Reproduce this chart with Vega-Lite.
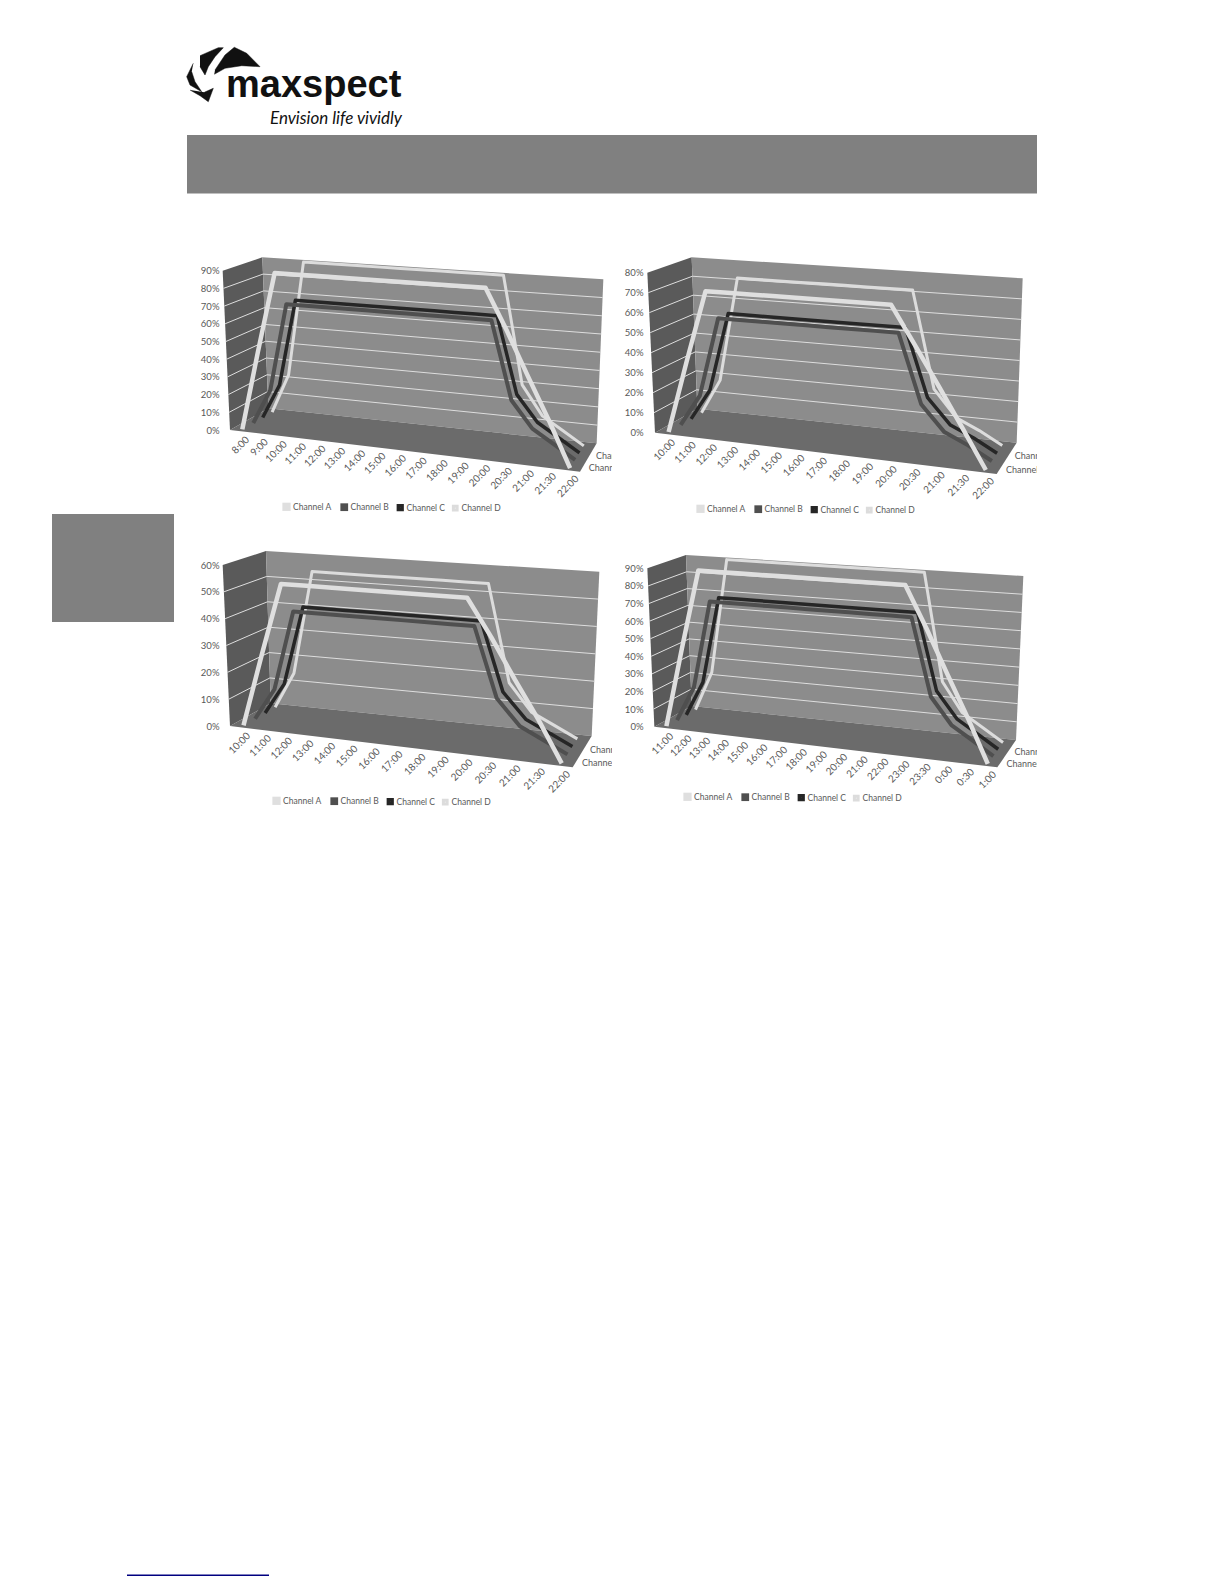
{"$schema":"https://vega.github.io/schema/vega-lite/v6.json","padding":{"left":52,"top":45,"right":0,"bottom":0},"background":"white","config":{"view":{"stroke":null}},
"datasets":{"logo":[
{"part":"b1","n":0,"x":215,"y":70},{"part":"b1","n":1,"x":225,"y":55},{"part":"b1","n":2,"x":234.3,"y":47.3},{"part":"b1","n":3,"x":246.7,"y":53.3},{"part":"b1","n":4,"x":260,"y":66.7},{"part":"b1","n":5,"x":241.7,"y":65.7},{"part":"b1","n":6,"x":225,"y":68.3},{"part":"b1","n":7,"x":214.3,"y":74.3},
{"part":"b2","n":0,"x":200,"y":55.7},{"part":"b2","n":1,"x":218.3,"y":47.7},{"part":"b2","n":2,"x":223.3,"y":47.7},{"part":"b2","n":3,"x":215,"y":56.7},{"part":"b2","n":4,"x":208.3,"y":66.7},{"part":"b2","n":5,"x":205,"y":75},{"part":"b2","n":6,"x":200,"y":66.7},
{"part":"b3","n":0,"x":193.3,"y":63.3},{"part":"b3","n":1,"x":186.7,"y":76.7},{"part":"b3","n":2,"x":190,"y":85},{"part":"b3","n":3,"x":201.7,"y":91.7},{"part":"b3","n":4,"x":195,"y":81.7},{"part":"b3","n":5,"x":191.7,"y":71.7},
{"part":"b4","n":0,"x":190,"y":90},{"part":"b4","n":1,"x":200,"y":95.7},{"part":"b4","n":2,"x":208.3,"y":101.7},{"part":"b4","n":3,"x":213.3,"y":88.3},{"part":"b4","n":4,"x":204.3,"y":92.3}],
"rows":[
{"panel":0,"part":"left","n":0,"s":0,"d":0,"f":0},{"panel":0,"part":"left","n":1,"s":0,"d":1,"f":0},{"panel":0,"part":"left","n":2,"s":0,"d":1,"f":1},{"panel":0,"part":"left","n":3,"s":0,"d":0,"f":1},
{"panel":0,"part":"back","n":0,"s":0,"d":1,"f":0},{"panel":0,"part":"back","n":1,"s":1,"d":1,"f":0},{"panel":0,"part":"back","n":2,"s":1,"d":1,"f":1},{"panel":0,"part":"back","n":3,"s":0,"d":1,"f":1},
{"panel":0,"part":"floor","n":0,"s":0,"d":0,"f":0},{"panel":0,"part":"floor","n":1,"s":1,"d":0,"f":0},{"panel":0,"part":"floor","n":2,"s":1,"d":1,"f":0},{"panel":0,"part":"floor","n":3,"s":0,"d":1,"f":0},
{"panel":0,"part":"depth","label":"Channel A","s":1,"d":0.17,"f":0},{"panel":0,"part":"depth","label":"Channel C","s":1,"d":0.6,"f":0},
{"panel":0,"part":"grid","value":10,"n":0,"s":0,"d":0},{"panel":0,"part":"grid","value":10,"n":1,"s":0,"d":1},{"panel":0,"part":"grid","value":10,"n":2,"s":1,"d":1},
{"panel":0,"part":"grid","value":20,"n":0,"s":0,"d":0},{"panel":0,"part":"grid","value":20,"n":1,"s":0,"d":1},{"panel":0,"part":"grid","value":20,"n":2,"s":1,"d":1},
{"panel":0,"part":"grid","value":30,"n":0,"s":0,"d":0},{"panel":0,"part":"grid","value":30,"n":1,"s":0,"d":1},{"panel":0,"part":"grid","value":30,"n":2,"s":1,"d":1},
{"panel":0,"part":"grid","value":40,"n":0,"s":0,"d":0},{"panel":0,"part":"grid","value":40,"n":1,"s":0,"d":1},{"panel":0,"part":"grid","value":40,"n":2,"s":1,"d":1},
{"panel":0,"part":"grid","value":50,"n":0,"s":0,"d":0},{"panel":0,"part":"grid","value":50,"n":1,"s":0,"d":1},{"panel":0,"part":"grid","value":50,"n":2,"s":1,"d":1},
{"panel":0,"part":"grid","value":60,"n":0,"s":0,"d":0},{"panel":0,"part":"grid","value":60,"n":1,"s":0,"d":1},{"panel":0,"part":"grid","value":60,"n":2,"s":1,"d":1},
{"panel":0,"part":"grid","value":70,"n":0,"s":0,"d":0},{"panel":0,"part":"grid","value":70,"n":1,"s":0,"d":1},{"panel":0,"part":"grid","value":70,"n":2,"s":1,"d":1},
{"panel":0,"part":"grid","value":80,"n":0,"s":0,"d":0},{"panel":0,"part":"grid","value":80,"n":1,"s":0,"d":1},{"panel":0,"part":"grid","value":80,"n":2,"s":1,"d":1},
{"panel":1,"channel":"Channel D","time":"8:00","slot":0,"value":0},{"panel":1,"channel":"Channel D","time":"9:00","slot":1,"value":23},{"panel":1,"channel":"Channel D","time":"10:00","slot":2,"value":90},{"panel":1,"channel":"Channel D","time":"11:00","slot":3,"value":90},{"panel":1,"channel":"Channel D","time":"12:00","slot":4,"value":90},{"panel":1,"channel":"Channel D","time":"13:00","slot":5,"value":90},{"panel":1,"channel":"Channel D","time":"14:00","slot":6,"value":90},{"panel":1,"channel":"Channel D","time":"15:00","slot":7,"value":90},{"panel":1,"channel":"Channel D","time":"16:00","slot":8,"value":90},{"panel":1,"channel":"Channel D","time":"17:00","slot":9,"value":90},{"panel":1,"channel":"Channel D","time":"18:00","slot":10,"value":90},{"panel":1,"channel":"Channel D","time":"19:00","slot":11,"value":90},{"panel":1,"channel":"Channel D","time":"20:00","slot":12,"value":90},{"panel":1,"channel":"Channel D","time":"20:30","slot":13,"value":30},{"panel":1,"channel":"Channel D","time":"21:00","slot":14,"value":14},{"panel":1,"channel":"Channel D","time":"21:30","slot":15,"value":7},{"panel":1,"channel":"Channel D","time":"22:00","slot":16,"value":0},
{"panel":1,"channel":"Channel C","time":"8:00","slot":0,"value":0},{"panel":1,"channel":"Channel C","time":"9:00","slot":1,"value":20},{"panel":1,"channel":"Channel C","time":"10:00","slot":2,"value":70},{"panel":1,"channel":"Channel C","time":"11:00","slot":3,"value":70},{"panel":1,"channel":"Channel C","time":"12:00","slot":4,"value":70},{"panel":1,"channel":"Channel C","time":"13:00","slot":5,"value":70},{"panel":1,"channel":"Channel C","time":"14:00","slot":6,"value":70},{"panel":1,"channel":"Channel C","time":"15:00","slot":7,"value":70},{"panel":1,"channel":"Channel C","time":"16:00","slot":8,"value":70},{"panel":1,"channel":"Channel C","time":"17:00","slot":9,"value":70},{"panel":1,"channel":"Channel C","time":"18:00","slot":10,"value":70},{"panel":1,"channel":"Channel C","time":"19:00","slot":11,"value":70},{"panel":1,"channel":"Channel C","time":"20:00","slot":12,"value":70},{"panel":1,"channel":"Channel C","time":"20:30","slot":13,"value":28},{"panel":1,"channel":"Channel C","time":"21:00","slot":14,"value":14},{"panel":1,"channel":"Channel C","time":"21:30","slot":15,"value":7},{"panel":1,"channel":"Channel C","time":"22:00","slot":16,"value":0},
{"panel":1,"channel":"Channel B","time":"8:00","slot":0,"value":0},{"panel":1,"channel":"Channel B","time":"9:00","slot":1,"value":20},{"panel":1,"channel":"Channel B","time":"10:00","slot":2,"value":70},{"panel":1,"channel":"Channel B","time":"11:00","slot":3,"value":70},{"panel":1,"channel":"Channel B","time":"12:00","slot":4,"value":70},{"panel":1,"channel":"Channel B","time":"13:00","slot":5,"value":70},{"panel":1,"channel":"Channel B","time":"14:00","slot":6,"value":70},{"panel":1,"channel":"Channel B","time":"15:00","slot":7,"value":70},{"panel":1,"channel":"Channel B","time":"16:00","slot":8,"value":70},{"panel":1,"channel":"Channel B","time":"17:00","slot":9,"value":70},{"panel":1,"channel":"Channel B","time":"18:00","slot":10,"value":70},{"panel":1,"channel":"Channel B","time":"19:00","slot":11,"value":70},{"panel":1,"channel":"Channel B","time":"20:00","slot":12,"value":70},{"panel":1,"channel":"Channel B","time":"20:30","slot":13,"value":28},{"panel":1,"channel":"Channel B","time":"21:00","slot":14,"value":14},{"panel":1,"channel":"Channel B","time":"21:30","slot":15,"value":7},{"panel":1,"channel":"Channel B","time":"22:00","slot":16,"value":0},
{"panel":1,"channel":"Channel A","time":"8:00","slot":0,"value":0},{"panel":1,"channel":"Channel A","time":"9:00","slot":1,"value":45},{"panel":1,"channel":"Channel A","time":"10:00","slot":2,"value":90},{"panel":1,"channel":"Channel A","time":"11:00","slot":3,"value":90},{"panel":1,"channel":"Channel A","time":"12:00","slot":4,"value":90},{"panel":1,"channel":"Channel A","time":"13:00","slot":5,"value":90},{"panel":1,"channel":"Channel A","time":"14:00","slot":6,"value":90},{"panel":1,"channel":"Channel A","time":"15:00","slot":7,"value":90},{"panel":1,"channel":"Channel A","time":"16:00","slot":8,"value":90},{"panel":1,"channel":"Channel A","time":"17:00","slot":9,"value":90},{"panel":1,"channel":"Channel A","time":"18:00","slot":10,"value":90},{"panel":1,"channel":"Channel A","time":"19:00","slot":11,"value":90},{"panel":1,"channel":"Channel A","time":"20:00","slot":12,"value":90},{"panel":1,"channel":"Channel A","time":"20:30","slot":13,"value":68},{"panel":1,"channel":"Channel A","time":"21:00","slot":14,"value":45},{"panel":1,"channel":"Channel A","time":"21:30","slot":15,"value":23},{"panel":1,"channel":"Channel A","time":"22:00","slot":16,"value":0},
{"panel":2,"channel":"Channel D","time":"10:00","slot":0,"value":0},{"panel":2,"channel":"Channel D","time":"11:00","slot":1,"value":18},{"panel":2,"channel":"Channel D","time":"12:00","slot":2,"value":72},{"panel":2,"channel":"Channel D","time":"13:00","slot":3,"value":72},{"panel":2,"channel":"Channel D","time":"14:00","slot":4,"value":72},{"panel":2,"channel":"Channel D","time":"15:00","slot":5,"value":72},{"panel":2,"channel":"Channel D","time":"16:00","slot":6,"value":72},{"panel":2,"channel":"Channel D","time":"17:00","slot":7,"value":72},{"panel":2,"channel":"Channel D","time":"18:00","slot":8,"value":72},{"panel":2,"channel":"Channel D","time":"19:00","slot":9,"value":72},{"panel":2,"channel":"Channel D","time":"20:00","slot":10,"value":72},{"panel":2,"channel":"Channel D","time":"20:30","slot":11,"value":24},{"panel":2,"channel":"Channel D","time":"21:00","slot":12,"value":11},{"panel":2,"channel":"Channel D","time":"21:30","slot":13,"value":6},{"panel":2,"channel":"Channel D","time":"22:00","slot":14,"value":0},
{"panel":2,"channel":"Channel C","time":"10:00","slot":0,"value":0},{"panel":2,"channel":"Channel C","time":"11:00","slot":1,"value":16},{"panel":2,"channel":"Channel C","time":"12:00","slot":2,"value":56},{"panel":2,"channel":"Channel C","time":"13:00","slot":3,"value":56},{"panel":2,"channel":"Channel C","time":"14:00","slot":4,"value":56},{"panel":2,"channel":"Channel C","time":"15:00","slot":5,"value":56},{"panel":2,"channel":"Channel C","time":"16:00","slot":6,"value":56},{"panel":2,"channel":"Channel C","time":"17:00","slot":7,"value":56},{"panel":2,"channel":"Channel C","time":"18:00","slot":8,"value":56},{"panel":2,"channel":"Channel C","time":"19:00","slot":9,"value":56},{"panel":2,"channel":"Channel C","time":"20:00","slot":10,"value":56},{"panel":2,"channel":"Channel C","time":"20:30","slot":11,"value":23},{"panel":2,"channel":"Channel C","time":"21:00","slot":12,"value":11},{"panel":2,"channel":"Channel C","time":"21:30","slot":13,"value":6},{"panel":2,"channel":"Channel C","time":"22:00","slot":14,"value":0},
{"panel":2,"channel":"Channel B","time":"10:00","slot":0,"value":0},{"panel":2,"channel":"Channel B","time":"11:00","slot":1,"value":16},{"panel":2,"channel":"Channel B","time":"12:00","slot":2,"value":56},{"panel":2,"channel":"Channel B","time":"13:00","slot":3,"value":56},{"panel":2,"channel":"Channel B","time":"14:00","slot":4,"value":56},{"panel":2,"channel":"Channel B","time":"15:00","slot":5,"value":56},{"panel":2,"channel":"Channel B","time":"16:00","slot":6,"value":56},{"panel":2,"channel":"Channel B","time":"17:00","slot":7,"value":56},{"panel":2,"channel":"Channel B","time":"18:00","slot":8,"value":56},{"panel":2,"channel":"Channel B","time":"19:00","slot":9,"value":56},{"panel":2,"channel":"Channel B","time":"20:00","slot":10,"value":56},{"panel":2,"channel":"Channel B","time":"20:30","slot":11,"value":23},{"panel":2,"channel":"Channel B","time":"21:00","slot":12,"value":11},{"panel":2,"channel":"Channel B","time":"21:30","slot":13,"value":6},{"panel":2,"channel":"Channel B","time":"22:00","slot":14,"value":0},
{"panel":2,"channel":"Channel A","time":"10:00","slot":0,"value":0},{"panel":2,"channel":"Channel A","time":"11:00","slot":1,"value":36},{"panel":2,"channel":"Channel A","time":"12:00","slot":2,"value":72},{"panel":2,"channel":"Channel A","time":"13:00","slot":3,"value":72},{"panel":2,"channel":"Channel A","time":"14:00","slot":4,"value":72},{"panel":2,"channel":"Channel A","time":"15:00","slot":5,"value":72},{"panel":2,"channel":"Channel A","time":"16:00","slot":6,"value":72},{"panel":2,"channel":"Channel A","time":"17:00","slot":7,"value":72},{"panel":2,"channel":"Channel A","time":"18:00","slot":8,"value":72},{"panel":2,"channel":"Channel A","time":"19:00","slot":9,"value":72},{"panel":2,"channel":"Channel A","time":"20:00","slot":10,"value":72},{"panel":2,"channel":"Channel A","time":"20:30","slot":11,"value":54},{"panel":2,"channel":"Channel A","time":"21:00","slot":12,"value":36},{"panel":2,"channel":"Channel A","time":"21:30","slot":13,"value":18},{"panel":2,"channel":"Channel A","time":"22:00","slot":14,"value":0},
{"panel":3,"channel":"Channel D","time":"10:00","slot":0,"value":0},{"panel":3,"channel":"Channel D","time":"11:00","slot":1,"value":14},{"panel":3,"channel":"Channel D","time":"12:00","slot":2,"value":54},{"panel":3,"channel":"Channel D","time":"13:00","slot":3,"value":54},{"panel":3,"channel":"Channel D","time":"14:00","slot":4,"value":54},{"panel":3,"channel":"Channel D","time":"15:00","slot":5,"value":54},{"panel":3,"channel":"Channel D","time":"16:00","slot":6,"value":54},{"panel":3,"channel":"Channel D","time":"17:00","slot":7,"value":54},{"panel":3,"channel":"Channel D","time":"18:00","slot":8,"value":54},{"panel":3,"channel":"Channel D","time":"19:00","slot":9,"value":54},{"panel":3,"channel":"Channel D","time":"20:00","slot":10,"value":54},{"panel":3,"channel":"Channel D","time":"20:30","slot":11,"value":18},{"panel":3,"channel":"Channel D","time":"21:00","slot":12,"value":8},{"panel":3,"channel":"Channel D","time":"21:30","slot":13,"value":4},{"panel":3,"channel":"Channel D","time":"22:00","slot":14,"value":0},
{"panel":3,"channel":"Channel C","time":"10:00","slot":0,"value":0},{"panel":3,"channel":"Channel C","time":"11:00","slot":1,"value":12},{"panel":3,"channel":"Channel C","time":"12:00","slot":2,"value":42},{"panel":3,"channel":"Channel C","time":"13:00","slot":3,"value":42},{"panel":3,"channel":"Channel C","time":"14:00","slot":4,"value":42},{"panel":3,"channel":"Channel C","time":"15:00","slot":5,"value":42},{"panel":3,"channel":"Channel C","time":"16:00","slot":6,"value":42},{"panel":3,"channel":"Channel C","time":"17:00","slot":7,"value":42},{"panel":3,"channel":"Channel C","time":"18:00","slot":8,"value":42},{"panel":3,"channel":"Channel C","time":"19:00","slot":9,"value":42},{"panel":3,"channel":"Channel C","time":"20:00","slot":10,"value":42},{"panel":3,"channel":"Channel C","time":"20:30","slot":11,"value":17},{"panel":3,"channel":"Channel C","time":"21:00","slot":12,"value":8},{"panel":3,"channel":"Channel C","time":"21:30","slot":13,"value":4},{"panel":3,"channel":"Channel C","time":"22:00","slot":14,"value":0},
{"panel":3,"channel":"Channel B","time":"10:00","slot":0,"value":0},{"panel":3,"channel":"Channel B","time":"11:00","slot":1,"value":12},{"panel":3,"channel":"Channel B","time":"12:00","slot":2,"value":42},{"panel":3,"channel":"Channel B","time":"13:00","slot":3,"value":42},{"panel":3,"channel":"Channel B","time":"14:00","slot":4,"value":42},{"panel":3,"channel":"Channel B","time":"15:00","slot":5,"value":42},{"panel":3,"channel":"Channel B","time":"16:00","slot":6,"value":42},{"panel":3,"channel":"Channel B","time":"17:00","slot":7,"value":42},{"panel":3,"channel":"Channel B","time":"18:00","slot":8,"value":42},{"panel":3,"channel":"Channel B","time":"19:00","slot":9,"value":42},{"panel":3,"channel":"Channel B","time":"20:00","slot":10,"value":42},{"panel":3,"channel":"Channel B","time":"20:30","slot":11,"value":17},{"panel":3,"channel":"Channel B","time":"21:00","slot":12,"value":8},{"panel":3,"channel":"Channel B","time":"21:30","slot":13,"value":4},{"panel":3,"channel":"Channel B","time":"22:00","slot":14,"value":0},
{"panel":3,"channel":"Channel A","time":"10:00","slot":0,"value":0},{"panel":3,"channel":"Channel A","time":"11:00","slot":1,"value":27},{"panel":3,"channel":"Channel A","time":"12:00","slot":2,"value":54},{"panel":3,"channel":"Channel A","time":"13:00","slot":3,"value":54},{"panel":3,"channel":"Channel A","time":"14:00","slot":4,"value":54},{"panel":3,"channel":"Channel A","time":"15:00","slot":5,"value":54},{"panel":3,"channel":"Channel A","time":"16:00","slot":6,"value":54},{"panel":3,"channel":"Channel A","time":"17:00","slot":7,"value":54},{"panel":3,"channel":"Channel A","time":"18:00","slot":8,"value":54},{"panel":3,"channel":"Channel A","time":"19:00","slot":9,"value":54},{"panel":3,"channel":"Channel A","time":"20:00","slot":10,"value":54},{"panel":3,"channel":"Channel A","time":"20:30","slot":11,"value":41},{"panel":3,"channel":"Channel A","time":"21:00","slot":12,"value":27},{"panel":3,"channel":"Channel A","time":"21:30","slot":13,"value":14},{"panel":3,"channel":"Channel A","time":"22:00","slot":14,"value":0},
{"panel":4,"channel":"Channel D","time":"11:00","slot":0,"value":0},{"panel":4,"channel":"Channel D","time":"12:00","slot":1,"value":23},{"panel":4,"channel":"Channel D","time":"13:00","slot":2,"value":90},{"panel":4,"channel":"Channel D","time":"14:00","slot":3,"value":90},{"panel":4,"channel":"Channel D","time":"15:00","slot":4,"value":90},{"panel":4,"channel":"Channel D","time":"16:00","slot":5,"value":90},{"panel":4,"channel":"Channel D","time":"17:00","slot":6,"value":90},{"panel":4,"channel":"Channel D","time":"18:00","slot":7,"value":90},{"panel":4,"channel":"Channel D","time":"19:00","slot":8,"value":90},{"panel":4,"channel":"Channel D","time":"20:00","slot":9,"value":90},{"panel":4,"channel":"Channel D","time":"21:00","slot":10,"value":90},{"panel":4,"channel":"Channel D","time":"22:00","slot":11,"value":90},{"panel":4,"channel":"Channel D","time":"23:00","slot":12,"value":90},{"panel":4,"channel":"Channel D","time":"23:30","slot":13,"value":30},{"panel":4,"channel":"Channel D","time":"0:00","slot":14,"value":14},{"panel":4,"channel":"Channel D","time":"0:30","slot":15,"value":7},{"panel":4,"channel":"Channel D","time":"1:00","slot":16,"value":0},
{"panel":4,"channel":"Channel C","time":"11:00","slot":0,"value":0},{"panel":4,"channel":"Channel C","time":"12:00","slot":1,"value":20},{"panel":4,"channel":"Channel C","time":"13:00","slot":2,"value":70},{"panel":4,"channel":"Channel C","time":"14:00","slot":3,"value":70},{"panel":4,"channel":"Channel C","time":"15:00","slot":4,"value":70},{"panel":4,"channel":"Channel C","time":"16:00","slot":5,"value":70},{"panel":4,"channel":"Channel C","time":"17:00","slot":6,"value":70},{"panel":4,"channel":"Channel C","time":"18:00","slot":7,"value":70},{"panel":4,"channel":"Channel C","time":"19:00","slot":8,"value":70},{"panel":4,"channel":"Channel C","time":"20:00","slot":9,"value":70},{"panel":4,"channel":"Channel C","time":"21:00","slot":10,"value":70},{"panel":4,"channel":"Channel C","time":"22:00","slot":11,"value":70},{"panel":4,"channel":"Channel C","time":"23:00","slot":12,"value":70},{"panel":4,"channel":"Channel C","time":"23:30","slot":13,"value":28},{"panel":4,"channel":"Channel C","time":"0:00","slot":14,"value":14},{"panel":4,"channel":"Channel C","time":"0:30","slot":15,"value":7},{"panel":4,"channel":"Channel C","time":"1:00","slot":16,"value":0},
{"panel":4,"channel":"Channel B","time":"11:00","slot":0,"value":0},{"panel":4,"channel":"Channel B","time":"12:00","slot":1,"value":20},{"panel":4,"channel":"Channel B","time":"13:00","slot":2,"value":70},{"panel":4,"channel":"Channel B","time":"14:00","slot":3,"value":70},{"panel":4,"channel":"Channel B","time":"15:00","slot":4,"value":70},{"panel":4,"channel":"Channel B","time":"16:00","slot":5,"value":70},{"panel":4,"channel":"Channel B","time":"17:00","slot":6,"value":70},{"panel":4,"channel":"Channel B","time":"18:00","slot":7,"value":70},{"panel":4,"channel":"Channel B","time":"19:00","slot":8,"value":70},{"panel":4,"channel":"Channel B","time":"20:00","slot":9,"value":70},{"panel":4,"channel":"Channel B","time":"21:00","slot":10,"value":70},{"panel":4,"channel":"Channel B","time":"22:00","slot":11,"value":70},{"panel":4,"channel":"Channel B","time":"23:00","slot":12,"value":70},{"panel":4,"channel":"Channel B","time":"23:30","slot":13,"value":28},{"panel":4,"channel":"Channel B","time":"0:00","slot":14,"value":14},{"panel":4,"channel":"Channel B","time":"0:30","slot":15,"value":7},{"panel":4,"channel":"Channel B","time":"1:00","slot":16,"value":0},
{"panel":4,"channel":"Channel A","time":"11:00","slot":0,"value":0},{"panel":4,"channel":"Channel A","time":"12:00","slot":1,"value":45},{"panel":4,"channel":"Channel A","time":"13:00","slot":2,"value":90},{"panel":4,"channel":"Channel A","time":"14:00","slot":3,"value":90},{"panel":4,"channel":"Channel A","time":"15:00","slot":4,"value":90},{"panel":4,"channel":"Channel A","time":"16:00","slot":5,"value":90},{"panel":4,"channel":"Channel A","time":"17:00","slot":6,"value":90},{"panel":4,"channel":"Channel A","time":"18:00","slot":7,"value":90},{"panel":4,"channel":"Channel A","time":"19:00","slot":8,"value":90},{"panel":4,"channel":"Channel A","time":"20:00","slot":9,"value":90},{"panel":4,"channel":"Channel A","time":"21:00","slot":10,"value":90},{"panel":4,"channel":"Channel A","time":"22:00","slot":11,"value":90},{"panel":4,"channel":"Channel A","time":"23:00","slot":12,"value":90},{"panel":4,"channel":"Channel A","time":"23:30","slot":13,"value":68},{"panel":4,"channel":"Channel A","time":"0:00","slot":14,"value":45},{"panel":4,"channel":"Channel A","time":"0:30","slot":15,"value":23},{"panel":4,"channel":"Channel A","time":"1:00","slot":16,"value":0}
]},
"resolve":{"scale":{"color":"independent","strokeWidth":"independent"},"legend":{"color":"independent"}},
"bounds":"flush","spacing":0,"align":"each","columns":3,
"concat":[
{"width":170,"height":205,"encoding":{"x":{"field":"x","type":"quantitative","axis":null,"scale":{"domain":[52,222],"nice":false,"zero":false}},"y":{"field":"y","type":"quantitative","axis":null,"scale":{"domain":[250,45],"nice":false,"zero":false}}},
 "layer":[
  {"data":{"values":[{"part":"banner","x":187,"x2":1037,"y":135,"y2":193.5},{"part":"side","x":52,"x2":174,"y":514,"y2":622}]},"mark":{"type":"rect","color":"#808080"},"encoding":{"x2":{"field":"x2"},"y2":{"field":"y2"}}},
  {"data":{"values":[{"part":"link","x":127,"x2":269,"y":1574.5,"y2":1576}]},"mark":{"type":"rect","color":"#000080"},"encoding":{"x2":{"field":"x2"},"y2":{"field":"y2"}}},
  {"data":{"name":"logo"},"mark":{"type":"line","fill":"#111111","stroke":"#111111","strokeWidth":0.5},"encoding":{"detail":{"field":"part"},"order":{"field":"n"}}},
  {"data":{"values":[{"label":"maxspect","x":226,"y":96.7}]},"mark":{"type":"text","font":"Liberation Sans","fontWeight":"bold","fontSize":38,"align":"left","baseline":"alphabetic","color":"#111111"},"encoding":{"text":{"field":"label"}}},
  {"data":{"values":[{"label":"Envision life vividly","x":270,"y":124}]},"mark":{"type":"text","font":"Lato","fontStyle":"italic","fontSize":17,"align":"left","baseline":"alphabetic","color":"#111111"},"encoding":{"text":{"field":"label"}}}
 ]},
{"width":424,"height":1,"data":{"values":[{}]},"mark":{"type":"rect","opacity":0},"encoding":{}},
{"width":391,"height":1,"data":{"values":[{}]},"mark":{"type":"rect","opacity":0},"encoding":{}},
{"width":1,"height":290,"data":{"values":[{}]},"mark":{"type":"rect","opacity":0},"encoding":{}},
   {"width":390,"height":265,"data":{"name":"rows"},
    "transform":[{"filter":"datum.panel==0||datum.panel==1"},{"calculate":"isValid(datum.slot)?(datum.slot+0.5)/17:datum.s","as":"u"},{"calculate":"datum.u-0.1*datum.u*(1-datum.u)","as":"s2"},{"calculate":"isValid(datum.channel)?[0.08,0.37,0.62,0.87][indexof(['Channel A','Channel B','Channel C','Channel D'],datum.channel)]:datum.d","as":"dep"},{"calculate":"isValid(datum.f)?datum.f:datum.value/90","as":"fr"},
     {"calculate":"lerp([lerp([lerp([150,1200],datum.s2),lerp([265,1250],datum.s2)],datum.dep),lerp([lerp([128,1222],datum.s2),lerp([247,1270],datum.s2)],datum.dep)],datum.fr)","as":"zx"},
     {"calculate":"lerp([lerp([lerp([540,665],datum.s2),lerp([475,580],datum.s2)],datum.dep),lerp([lerp([62,139],datum.s2),lerp([22,88],datum.s2)],datum.dep)],datum.fr)","as":"zy"},
     {"calculate":"(540-datum.zy)*90/478","as":"level"}],
    "encoding":{"x":{"field":"zx","type":"quantitative","axis":null,"scale":{"domain":[126,1296],"nice":false,"zero":false}},"y":{"field":"level","type":"quantitative","scale":{"domain":[-48.01,101.67],"nice":false,"zero":false},"axis":{"title":null,"values":[0,10,20,30,40,50,60,70,80,90],"labelExpr":"datum.value+'%'","domain":false,"ticks":false,"grid":false,"labelPadding":3,"labelFont":"Lato","labelFontSize":9.5,"labelColor":"#595959"}}},
    "layer":[
     {"transform":[{"filter":"datum.part=='left'"}],"mark":{"type":"line","fill":"#5a5a5a","strokeWidth":0},"encoding":{"order":{"field":"n"}}},
     {"transform":[{"filter":"datum.part=='back'"}],"mark":{"type":"line","fill":"#8c8c8c","strokeWidth":0},"encoding":{"order":{"field":"n"}}},
     {"transform":[{"filter":"datum.part=='floor'"}],"mark":{"type":"line","fill":"#6b6b6b","strokeWidth":0},"encoding":{"order":{"field":"n"}}},
     {"transform":[{"filter":"datum.part=='grid'&&datum.value<90"}],"mark":{"type":"line","color":"#dedede","strokeWidth":1},"encoding":{"detail":{"field":"value"},"order":{"field":"n"}}},
     {"transform":[{"filter":"isValid(datum.channel)"}],"mark":{"type":"line","strokeJoin":"round"},"encoding":{"order":{"field":"slot"},"color":{"field":"channel","type":"nominal","scale":{"domain":["Channel A","Channel B","Channel C","Channel D"],"range":["#dfdfdf","#4f4f4f","#262626","#dcdcdc"]},"legend":{"title":null,"orient":"none","legendX":60,"legendY":252,"direction":"horizontal","symbolType":"square","symbolSize":14,"symbolStrokeWidth":3,"labelFont":"Lato","labelFontSize":8.5,"labelColor":"#595959","labelOffset":2,"columnPadding":2}},"strokeWidth":{"field":"channel","type":"nominal","scale":{"domain":["Channel A","Channel B","Channel C","Channel D"],"range":[4.5,3,3,2]},"legend":null}}},
     {"transform":[{"filter":"datum.channel=='Channel A'"},{"calculate":"lerp([150,1200],datum.s2)","as":"lx"},{"calculate":"(540-lerp([540,665],datum.s2))*90/478","as":"ly"}],"mark":{"type":"text","angle":315,"align":"right","baseline":"middle","dx":1,"dy":11,"font":"Lato","fontSize":10,"color":"#595959"},"encoding":{"x":{"field":"lx","type":"quantitative"},"y":{"field":"ly","type":"quantitative"},"text":{"field":"time"}}},
     {"transform":[{"filter":"datum.part=='depth'"}],"mark":{"type":"text","align":"left","baseline":"middle","dx":6,"dy":1,"clip":true,"font":"Lato","fontSize":9,"color":"#595959"},"encoding":{"text":{"field":"label"}}}
    ]},
   {"width":391,"height":265,"data":{"name":"rows"},
    "transform":[{"filter":"datum.panel==0||datum.panel==2"},{"calculate":"isValid(datum.slot)?(datum.slot+0.5)/15:datum.s","as":"u"},{"calculate":"datum.u-0.1*datum.u*(1-datum.u)","as":"s2"},{"calculate":"isValid(datum.channel)?[0.08,0.37,0.62,0.87][indexof(['Channel A','Channel B','Channel C','Channel D'],datum.channel)]:datum.d","as":"dep"},{"calculate":"isValid(datum.f)?datum.f:datum.value/80","as":"fr"},
     {"calculate":"lerp([lerp([lerp([135,1160],datum.s2),lerp([262,1220],datum.s2)],datum.dep),lerp([lerp([112,1180],datum.s2),lerp([245,1238],datum.s2)],datum.dep)],datum.fr)","as":"zx"},
     {"calculate":"lerp([lerp([lerp([548,672],datum.s2),lerp([476,578],datum.s2)],datum.dep),lerp([lerp([68,140],datum.s2),lerp([22,85],datum.s2)],datum.dep)],datum.fr)","as":"zy"},
     {"calculate":"(548-datum.zy)*80/480","as":"level"}],
    "encoding":{"x":{"field":"zx","type":"quantitative","axis":null,"scale":{"domain":[108,1281],"nice":false,"zero":false}},"y":{"field":"level","type":"quantitative","scale":{"domain":[-41.17,91.33],"nice":false,"zero":false},"axis":{"title":null,"values":[0,10,20,30,40,50,60,70,80],"labelExpr":"datum.value+'%'","domain":false,"ticks":false,"grid":false,"labelPadding":3,"labelFont":"Lato","labelFontSize":9.5,"labelColor":"#595959"}}},
    "layer":[
     {"transform":[{"filter":"datum.part=='left'"}],"mark":{"type":"line","fill":"#5a5a5a","strokeWidth":0},"encoding":{"order":{"field":"n"}}},
     {"transform":[{"filter":"datum.part=='back'"}],"mark":{"type":"line","fill":"#8c8c8c","strokeWidth":0},"encoding":{"order":{"field":"n"}}},
     {"transform":[{"filter":"datum.part=='floor'"}],"mark":{"type":"line","fill":"#6b6b6b","strokeWidth":0},"encoding":{"order":{"field":"n"}}},
     {"transform":[{"filter":"datum.part=='grid'&&datum.value<80"}],"mark":{"type":"line","color":"#dedede","strokeWidth":1},"encoding":{"detail":{"field":"value"},"order":{"field":"n"}}},
     {"transform":[{"filter":"isValid(datum.channel)"}],"mark":{"type":"line","strokeJoin":"round"},"encoding":{"order":{"field":"slot"},"color":{"field":"channel","type":"nominal","scale":{"domain":["Channel A","Channel B","Channel C","Channel D"],"range":["#dfdfdf","#4f4f4f","#262626","#dcdcdc"]},"legend":{"title":null,"orient":"none","legendX":50,"legendY":254,"direction":"horizontal","symbolType":"square","symbolSize":14,"symbolStrokeWidth":3,"labelFont":"Lato","labelFontSize":8.5,"labelColor":"#595959","labelOffset":2,"columnPadding":2}},"strokeWidth":{"field":"channel","type":"nominal","scale":{"domain":["Channel A","Channel B","Channel C","Channel D"],"range":[4.5,3,3,2]},"legend":null}}},
     {"transform":[{"filter":"datum.channel=='Channel A'"},{"calculate":"lerp([135,1160],datum.s2)","as":"lx"},{"calculate":"(548-lerp([548,672],datum.s2))*80/480","as":"ly"}],"mark":{"type":"text","angle":315,"align":"right","baseline":"middle","dx":1,"dy":11,"font":"Lato","fontSize":10,"color":"#595959"},"encoding":{"x":{"field":"lx","type":"quantitative"},"y":{"field":"ly","type":"quantitative"},"text":{"field":"time"}}},
     {"transform":[{"filter":"datum.part=='depth'"}],"mark":{"type":"text","align":"left","baseline":"middle","dx":6,"dy":1,"clip":true,"font":"Lato","fontSize":9,"color":"#595959"},"encoding":{"text":{"field":"label"}}}
    ]},
{"width":1,"height":1,"data":{"values":[{}]},"mark":{"type":"rect","opacity":0},"encoding":{}},
   {"width":390,"height":265,"data":{"name":"rows"},
    "transform":[{"filter":"datum.panel==0||datum.panel==3"},{"calculate":"isValid(datum.slot)?(datum.slot+0.5)/15:datum.s","as":"u"},{"calculate":"datum.u-0.1*datum.u*(1-datum.u)","as":"s2"},{"calculate":"isValid(datum.channel)?[0.08,0.37,0.62,0.87][indexof(['Channel A','Channel B','Channel C','Channel D'],datum.channel)]:datum.d","as":"dep"},{"calculate":"isValid(datum.f)?datum.f:datum.value/60","as":"fr"},
     {"calculate":"lerp([lerp([lerp([150,1178],datum.s2),lerp([272,1235],datum.s2)],datum.dep),lerp([lerp([128,1200],datum.s2),lerp([258,1258],datum.s2)],datum.dep)],datum.fr)","as":"zx"},
     {"calculate":"lerp([lerp([lerp([558,682],datum.s2),lerp([490,588],datum.s2)],datum.dep),lerp([lerp([75,150],datum.s2),lerp([33,95],datum.s2)],datum.dep)],datum.fr)","as":"zy"},
     {"calculate":"(558-datum.zy)*60/483","as":"level"}],
    "encoding":{"x":{"field":"zx","type":"quantitative","axis":null,"scale":{"domain":[126,1296],"nice":false,"zero":false}},"y":{"field":"level","type":"quantitative","scale":{"domain":[-29.44,69.32],"nice":false,"zero":false},"axis":{"title":null,"values":[0,10,20,30,40,50,60],"labelExpr":"datum.value+'%'","domain":false,"ticks":false,"grid":false,"labelPadding":3,"labelFont":"Lato","labelFontSize":9.5,"labelColor":"#595959"}}},
    "layer":[
     {"transform":[{"filter":"datum.part=='left'"}],"mark":{"type":"line","fill":"#5a5a5a","strokeWidth":0},"encoding":{"order":{"field":"n"}}},
     {"transform":[{"filter":"datum.part=='back'"}],"mark":{"type":"line","fill":"#8c8c8c","strokeWidth":0},"encoding":{"order":{"field":"n"}}},
     {"transform":[{"filter":"datum.part=='floor'"}],"mark":{"type":"line","fill":"#6b6b6b","strokeWidth":0},"encoding":{"order":{"field":"n"}}},
     {"transform":[{"filter":"datum.part=='grid'&&datum.value<60"}],"mark":{"type":"line","color":"#dedede","strokeWidth":1},"encoding":{"detail":{"field":"value"},"order":{"field":"n"}}},
     {"transform":[{"filter":"isValid(datum.channel)"}],"mark":{"type":"line","strokeJoin":"round"},"encoding":{"order":{"field":"slot"},"color":{"field":"channel","type":"nominal","scale":{"domain":["Channel A","Channel B","Channel C","Channel D"],"range":["#dfdfdf","#4f4f4f","#262626","#dcdcdc"]},"legend":{"title":null,"orient":"none","legendX":50,"legendY":256,"direction":"horizontal","symbolType":"square","symbolSize":14,"symbolStrokeWidth":3,"labelFont":"Lato","labelFontSize":8.5,"labelColor":"#595959","labelOffset":2,"columnPadding":2}},"strokeWidth":{"field":"channel","type":"nominal","scale":{"domain":["Channel A","Channel B","Channel C","Channel D"],"range":[4.5,3,3,2]},"legend":null}}},
     {"transform":[{"filter":"datum.channel=='Channel A'"},{"calculate":"lerp([150,1178],datum.s2)","as":"lx"},{"calculate":"(558-lerp([558,682],datum.s2))*60/483","as":"ly"}],"mark":{"type":"text","angle":315,"align":"right","baseline":"middle","dx":1,"dy":11,"font":"Lato","fontSize":10,"color":"#595959"},"encoding":{"x":{"field":"lx","type":"quantitative"},"y":{"field":"ly","type":"quantitative"},"text":{"field":"time"}}},
     {"transform":[{"filter":"datum.part=='depth'"}],"mark":{"type":"text","align":"left","baseline":"middle","dx":6,"dy":1,"clip":true,"font":"Lato","fontSize":9,"color":"#595959"},"encoding":{"text":{"field":"label"}}}
    ]},
   {"width":391,"height":265,"data":{"name":"rows"},
    "transform":[{"filter":"datum.panel==0||datum.panel==4"},{"calculate":"isValid(datum.slot)?(datum.slot+0.5)/17:datum.s","as":"u"},{"calculate":"datum.u-0.1*datum.u*(1-datum.u)","as":"s2"},{"calculate":"isValid(datum.channel)?[0.08,0.37,0.62,0.87][indexof(['Channel A','Channel B','Channel C','Channel D'],datum.channel)]:datum.d","as":"dep"},{"calculate":"isValid(datum.f)?datum.f:datum.value/90","as":"fr"},
     {"calculate":"lerp([lerp([lerp([133,1162],datum.s2),lerp([245,1218],datum.s2)],datum.dep),lerp([lerp([112,1185],datum.s2),lerp([228,1240],datum.s2)],datum.dep)],datum.fr)","as":"zx"},
     {"calculate":"lerp([lerp([lerp([560,682],datum.s2),lerp([498,600],datum.s2)],datum.dep),lerp([lerp([85,160],datum.s2),lerp([45,108],datum.s2)],datum.dep)],datum.fr)","as":"zy"},
     {"calculate":"(560-datum.zy)*90/475","as":"level"}],
    "encoding":{"x":{"field":"zx","type":"quantitative","axis":null,"scale":{"domain":[108,1281],"nice":false,"zero":false}},"y":{"field":"level","type":"quantitative","scale":{"domain":[-44.5,106.1],"nice":false,"zero":false},"axis":{"title":null,"values":[0,10,20,30,40,50,60,70,80,90],"labelExpr":"datum.value+'%'","domain":false,"ticks":false,"grid":false,"labelPadding":3,"labelFont":"Lato","labelFontSize":9.5,"labelColor":"#595959"}}},
    "layer":[
     {"transform":[{"filter":"datum.part=='left'"}],"mark":{"type":"line","fill":"#5a5a5a","strokeWidth":0},"encoding":{"order":{"field":"n"}}},
     {"transform":[{"filter":"datum.part=='back'"}],"mark":{"type":"line","fill":"#8c8c8c","strokeWidth":0},"encoding":{"order":{"field":"n"}}},
     {"transform":[{"filter":"datum.part=='floor'"}],"mark":{"type":"line","fill":"#6b6b6b","strokeWidth":0},"encoding":{"order":{"field":"n"}}},
     {"transform":[{"filter":"datum.part=='grid'&&datum.value<90"}],"mark":{"type":"line","color":"#dedede","strokeWidth":1},"encoding":{"detail":{"field":"value"},"order":{"field":"n"}}},
     {"transform":[{"filter":"isValid(datum.channel)"}],"mark":{"type":"line","strokeJoin":"round"},"encoding":{"order":{"field":"slot"},"color":{"field":"channel","type":"nominal","scale":{"domain":["Channel A","Channel B","Channel C","Channel D"],"range":["#dfdfdf","#4f4f4f","#262626","#dcdcdc"]},"legend":{"title":null,"orient":"none","legendX":37,"legendY":252,"direction":"horizontal","symbolType":"square","symbolSize":14,"symbolStrokeWidth":3,"labelFont":"Lato","labelFontSize":8.5,"labelColor":"#595959","labelOffset":2,"columnPadding":2}},"strokeWidth":{"field":"channel","type":"nominal","scale":{"domain":["Channel A","Channel B","Channel C","Channel D"],"range":[4.5,3,3,2]},"legend":null}}},
     {"transform":[{"filter":"datum.channel=='Channel A'"},{"calculate":"lerp([133,1162],datum.s2)","as":"lx"},{"calculate":"(560-lerp([560,682],datum.s2))*90/475","as":"ly"}],"mark":{"type":"text","angle":315,"align":"right","baseline":"middle","dx":1,"dy":11,"font":"Lato","fontSize":10,"color":"#595959"},"encoding":{"x":{"field":"lx","type":"quantitative"},"y":{"field":"ly","type":"quantitative"},"text":{"field":"time"}}},
     {"transform":[{"filter":"datum.part=='depth'"}],"mark":{"type":"text","align":"left","baseline":"middle","dx":6,"dy":1,"clip":true,"font":"Lato","fontSize":9,"color":"#595959"},"encoding":{"text":{"field":"label"}}}
    ]}
]}
